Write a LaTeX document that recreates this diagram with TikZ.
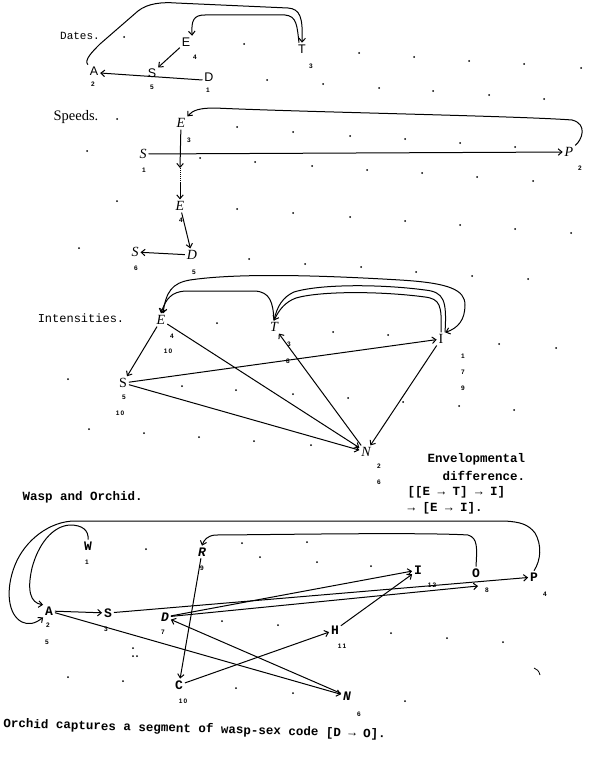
\documentclass[tikz,border=0pt]{standalone}
\usepackage{fontspec}
\setmainfont{Liberation Serif}
\newfontfamily\lmono{Liberation Mono}
\newfontfamily\lsans{Liberation Sans}
\usetikzlibrary{arrows.meta}
\tikzset{
  arr/.style={-{Straight Barb[length=3.8pt,width=6.5pt]}},
  barr/.style={{Straight Barb[length=3.8pt,width=6.5pt]}-{Straight Barb[length=3.8pt,width=6.5pt]}},
  dnode/.style={font=\lsans\fontsize{12.5}{12.5}\selectfont, inner sep=1.5pt},
  snode/.style={font=\fontsize{14}{14}\selectfont\itshape, inner sep=1.5pt},
  inode/.style={font=\fontsize{14}{14}\selectfont\itshape, inner sep=1.5pt},
  wnode/.style={font=\lmono\bfseries\fontsize{13}{13}\selectfont, inner sep=1.5pt},
  num/.style={font=\lsans\bfseries\fontsize{6.5}{7}\selectfont, inner sep=0pt},
  ttl/.style={font=\lmono\fontsize{11}{11}\selectfont, inner sep=0pt},
  sttl/.style={font=\fontsize{14.5}{14.5}\selectfont, inner sep=0pt},
  btxt/.style={font=\lmono\bfseries\fontsize{12.5}{12.5}\selectfont, inner sep=0pt},
}
\begin{document}
\begin{tikzpicture}[x=1pt,y=-1pt,line width=1pt]
\useasboundingbox (0,0) rectangle (595,760);
\fill[white] (0,0) rectangle (595,760);

% ---------- grid dots ----------
\foreach \p in {(124,37),(244,44),(267,80),(323,84),(359,53),(414,57),(469,61),(524,64),(581,68),(379,88),(433,91),(489,95),(544,99),
(117,119),(237,127),(293,132),(350,136),(405,139),(460,143),(515,147),(87,151),(200,158),(255,162),(312,166),(367,170),(422,173),(477,177),(533,181),
(117,201),(237,209),(293,213),(350,217),(405,221),(460,225),(515,229),(571,233),(79,248),(249,259),(305,264),(361,267),(416,272),(472,276),(528,279),
(217,323),(333,332),(388,335),(499,344),(556,348),(68,379),(182,386),(236,390),(293,394),(348,398),(403,402),(459,406),(514,410),(89,429),(144,433),(199,437),(254,441),(311,445),
(146,549),(242,543),(307,542),(260,557),(317,562),(371,566),(222,621),(278,625),(391,633),(447,638),(503,642),(68,677),(123,681),(236,688),(293,693),(405,701),(133,648),(133,656),(137,656)}
  \fill \p circle (1pt);
\draw[line width=0.8pt] (534,668) .. controls (537,669) and (539,671) .. (540,675);

% ---------- Dates ----------
\node[ttl] (dates) at (80,36) {Dates.};
\node[dnode] (dE) at (186,42) {E};
\node[dnode] (dT) at (302,49) {T};
\node[dnode] (dA) at (94,71) {A};
\node[dnode] (dS) at (152,73) {S};
\node[dnode] (dD) at (209,77) {D};
\node[num] (dE4) at (195,57) {4};
\node[num] (dT3) at (311,66) {3};
\node[num] (dA2) at (93,84) {2};
\node[num] (dS5) at (152,87) {5};
\node[num] (dD1) at (208,90) {1};
\draw[arr] (dE) -- (dS);
\draw[arr] ([yshift=-3pt]dD.west) -- ([yshift=-2pt]dA.east);
\draw[arr] (dA.north west) .. controls (84,60) and (92,52) .. (100,44) -- (138,11) .. controls (148,3) and (163,2) .. (176,3) -- (288,8) .. controls (300,9) and (303,17) .. (dT.north);
\draw[arr] ([xshift=-3pt]dT.north) .. controls (297,26) and (297,16) .. (285,15) -- (205,15) .. controls (194,15) and (191,20) .. (dE.north east);

% ---------- Speeds ----------
\node[sttl] (speeds) at (76,117) {Speeds.};
\node[snode] (sE1) at (181,123) {E};
\node[snode] (sS1) at (143,154) {S};
\node[snode] (sP) at (569,152) {P};
\node[snode] (sE2) at (180,206) {E};
\node[snode] (sD) at (192,255) {D};
\node[snode] (sS2) at (135,252) {S};
\node[num] (sE13) at (189,140) {3};
\node[num] (sS11) at (144,170) {1};
\node[num] (sP2) at (580,168) {2};
\node[num] (sE24) at (181,220) {4};
\node[num] (sS26) at (136,268) {6};
\node[num] (sD5) at (194,272) {5};
\coordinate (sdot1) at (180,168);
\coordinate (sdot2) at (180,183);
\draw[arr] (sS1) -- (sP);
\draw[arr] (sE1) -- (sdot1);
\draw[densely dotted] (sdot1) -- (sdot2);
\draw[arr] (sdot2) -- (sE2);
\draw[arr] (sE2) -- (sD);
\draw[arr] (sD) -- (sS2);
\draw[arr] (sP.north east) .. controls (582,140) and (588,124) .. (572,120) .. controls (520,116) and (300,112) .. (215,108) .. controls (200,108) and (193,110) .. (sE1.north east);

% ---------- Intensities ----------
\node[ttl,font=\lmono\fontsize{12}{12}\selectfont] (inten) at (81,318) {Intensities.};
\node[inode] (iE) at (161,320) {E};
\node[inode] (iT) at (274,327) {T};
\node[inode,font=\fontsize{14}{14}\selectfont] (iI) at (441,339) {I};
\node[inode,font=\fontsize{14}{14}\selectfont] (iS) at (123,383) {S};
\node[inode] (iN) at (366,452) {N};
\node[num] (iE4) at (172,336) {4};
\node[num] (iE10) at (168,351) {1\,0};
\node[num] (iT3) at (289,344) {3};
\node[num] (i8) at (288,361) {8};
\node[num] (iI1) at (463,356) {1};
\node[num] (iI7) at (463,372) {7};
\node[num] (iI9) at (463,388) {9};
\node[num] (iS5) at (124,397) {5};
\node[num] (iS10) at (120,413) {1\,0};
\node[num] (iN2) at (379,466) {2};
\node[num] (iN6) at (379,482) {6};
\draw[arr] (iE) -- (iS);
\draw[arr] (iE) -- (iN);
\draw[arr] (iS) -- (iI);
\draw[arr] (iS) -- (iN);
\draw[arr] (iN) -- (iT);
\draw[arr] (iI) -- (iN);
\draw[arr] (iT.north) .. controls (273,302) and (270,292) .. (255,291) -- (185,291) .. controls (172,292) and (166,298) .. (iE.north);
\draw[barr] ([xshift=2pt]iE.north) .. controls (166,292) and (172,283) .. (190,280) .. controls (230,274) and (300,274) .. (400,280) .. controls (450,283) and (465,290) .. (465,305) .. controls (465,320) and (458,328) .. (iI.north east);
\draw[arr] (iI.north) .. controls (442,305) and (440,299) .. (425,297) .. controls (380,291) and (320,291) .. (296,298) .. controls (285,302) and (279,310) .. (iT.north);
\draw ([xshift=4pt]iI.north) .. controls (447,300) and (444,292) .. (425,290) .. controls (380,284) and (320,284) .. (294,292) .. controls (283,297) and (277,306) .. (iT.north);

% ---------- Envelopmental ----------
\node[btxt,anchor=west] (env1) at (427,459) {Envelopmental};
\node[btxt,anchor=west] (env2) at (442,476) {difference.};
\node[btxt,anchor=west] (env3) at (407,492) {[[E → T] → I]};
\node[btxt,anchor=west] (env4) at (407,508) {→ [E → I].};

% ---------- Wasp and Orchid ----------
\node[btxt,anchor=west] (wasp) at (22,497) {Wasp and Orchid.};
\node[wnode] (wW) at (88,546) {W};
\node[wnode] (wR) at (202,552) {\textit{R}};
\node[wnode] (wI) at (418,570) {I};
\node[wnode] (wO) at (476,573) {O};
\node[wnode] (wP) at (534,577) {P};
\node[wnode] (wA) at (49,611) {A};
\node[wnode] (wS) at (108,613) {S};
\node[wnode] (wD) at (165,617) {\textit{D}};
\node[wnode] (wH) at (335,630) {H};
\node[wnode] (wC) at (179,685) {C};
\node[wnode] (wN) at (347,696) {\textit{N}};
\node[num] (wW1) at (87,562) {1};
\node[num] (wR9) at (202,568) {9};
\node[num] (wI12) at (432,585) {1\,2};
\node[num] (wO8) at (487,590) {8};
\node[num] (wP4) at (545,594) {4};
\node[num] (wA2) at (48,625) {2};
\node[num] (wA5) at (47,642) {5};
\node[num] (wS3) at (106,629) {3};
\node[num] (wD7) at (163,632) {7};
\node[num] (wH11) at (342,646) {1\,1};
\node[num] (wC10) at (183,701) {1\,0};
\node[num] (wN6) at (359,714) {6};
\coordinate (wOin) at (478,586);
\draw[arr] (wA) -- (wS);
\draw[arr] (wS) -- (wP);
\draw[arr] (wA) -- (wN);
\draw[arr] (wN) -- (wD);
\draw[arr] (wD) -- (wI);
\draw[arr] (wD) -- (wOin);
\draw[arr] (wR) -- (wC);
\draw[arr] (wC) -- (wH);
\draw[arr] (wH) -- (wI);
\draw[arr] (wW.north) .. controls (89,530) and (82,525) .. (70,525) .. controls (52,526) and (38,545) .. (32,568) .. controls (27,590) and (30,603) .. (wA.north west);
\draw[arr] (wP.north) .. controls (541,560) and (542,545) .. (535,533) .. controls (528,524) and (520,522) .. (505,521) -- (75,521) .. controls (50,521) and (25,540) .. (15,565) .. controls (5,590) and (8,615) .. (22,622) .. controls (28,625) and (35,624) .. (wA.south west);
\draw[arr] (wO.north) .. controls (477,548) and (478,538) .. (468,535) .. controls (420,532) and (250,535) .. (215,535) .. controls (207,536) and (204,540) .. (wR.north);

\node[btxt,anchor=west,rotate=-1.6] (cap) at (3,724) {Orchid captures a segment of wasp-sex code [D → O].};
\end{tikzpicture}
\end{document}
